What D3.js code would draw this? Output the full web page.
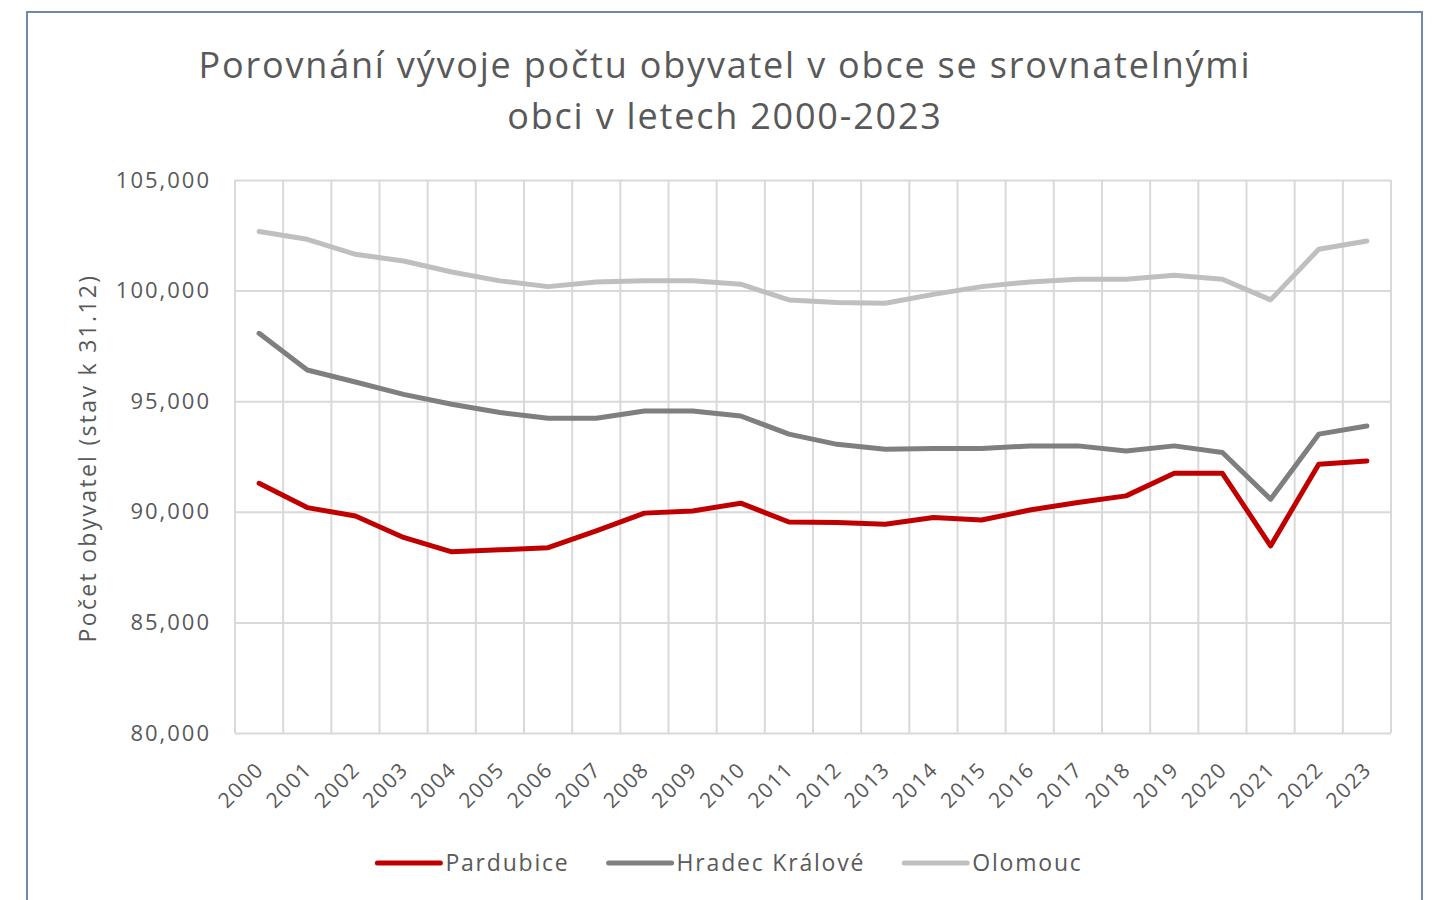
<!DOCTYPE html>
<html>
<head>
<meta charset="utf-8">
<script src="https://cdn.jsdelivr.net/npm/d3@7"></script>
<style>
  body { margin: 0; background: #fff; }
  text { font-family: "Open Sans", sans-serif; fill: #595959; }
</style>
</head>
<body>
<div id="chart"></div>
<script>
// data
const years = ["2000","2001","2002","2003","2004","2005","2006","2007","2008","2009","2010","2011",
               "2012","2013","2014","2015","2016","2017","2018","2019","2020","2021","2022","2023"];
const pardubice = [91290, 90190, 89810, 88840, 88190, 88280, 88380, 89140, 89940, 90040, 90390, 89540,
                   89520, 89440, 89740, 89630, 90080, 90420, 90720, 91740, 91740, 88460, 92150, 92300];
const hradec = [98070, 96410, 95870, 95310, 94860, 94490, 94230, 94230, 94560, 94560, 94330, 93510,
                93050, 92830, 92860, 92860, 92980, 92980, 92750, 92980, 92680, 90570, 93510, 93880];
const olomouc = [102670, 102320, 101640, 101340, 100840, 100440, 100180, 100390, 100440, 100440, 100290, 99580,
                 99460, 99430, 99830, 100180, 100390, 100510, 100510, 100690, 100510, 99580, 101870, 102240];
const yTicks = [80000, 85000, 90000, 95000, 100000, 105000];
const series = [
  {name: "Pardubice", values: pardubice, color: "#c00000"},
  {name: "Hradec Králové", values: hradec, color: "#7f7f7f"},
  {name: "Olomouc", values: olomouc, color: "#bfbfbf"}
];

const W = 1436, H = 900;
const plot = {left: 235, right: 1391, top: 180, bottom: 733};

const svg = d3.select("#chart").append("svg")
              .attr("width", W)
              .attr("height", H);

// outer frame
svg.append("rect")
   .attr("x", 27).attr("y", 12)
   .attr("width", 1395).attr("height", 920)
   .attr("fill", "#fff")
   .attr("stroke", "#7487a8")
   .attr("stroke-width", 2);

// title
const title = svg.append("text")
                 .attr("text-anchor", "middle")
                 .style("font-size", "36px")
                 .style("letter-spacing", "1.8px");
title.append("tspan").attr("x", 725).attr("y", 78)
     .text("Porovnání vývoje počtu obyvatel v obce se srovnatelnými");
title.append("tspan").attr("x", 725).attr("y", 129)
     .text("obci v letech 2000-2023");

const x = d3.scaleBand()
            .domain(years)
            .range([plot.left, plot.right])
            .padding(0);
const y = d3.scaleLinear()
            .domain([80000, 105000])
            .range([plot.bottom, plot.top]);

// horizontal grid + y labels
const yAxis = svg.append("g")
                 .attr("transform", "translate(" + plot.left + ",0)")
                 .call(d3.axisLeft(y)
                         .tickValues(yTicks)
                         .tickSize(-(plot.right - plot.left))
                         .tickPadding(24)
                         .tickFormat(d3.format(",")));
yAxis.select(".domain").remove();
yAxis.selectAll("line").attr("stroke", "#d9d9d9").attr("stroke-width", 2);
yAxis.selectAll("text")
     .style("font-size", "22px")
     .style("letter-spacing", "2px")
     .style("font-family", "\"Open Sans\", sans-serif")
     .attr("fill", "#595959");

// vertical grid at band edges
const edges = years.map(d => x(d)).concat([plot.right]);
svg.append("g")
   .selectAll("line")
   .data(edges)
   .enter()
   .append("line")
   .attr("x1", d => d).attr("x2", d => d)
   .attr("y1", plot.top).attr("y2", plot.bottom)
   .attr("stroke", "#d9d9d9")
   .attr("stroke-width", 2);

// x labels
svg.append("g")
   .selectAll("text")
   .data(years)
   .enter()
   .append("text")
   .attr("text-anchor", "end")
   .attr("transform", d => "translate(" + (x(d) + x.bandwidth() / 2 + 6) + "," + (plot.bottom + 38) + ") rotate(-45)")
   .style("font-size", "21px")
   .style("letter-spacing", "1.5px")
   .text(d => d);

// y axis title
svg.append("text")
   .attr("text-anchor", "middle")
   .attr("transform", "translate(96,458) rotate(-90)")
   .style("font-size", "23px")
   .style("letter-spacing", "2.3px")
   .text("Počet obyvatel (stav k 31.12)");

// lines
const line = d3.line()
               .x((d, i) => x(years[i]) + x.bandwidth() / 2)
               .y(d => y(d));
svg.append("g")
   .selectAll("path")
   .data(series.slice().reverse())
   .enter()
   .append("path")
   .attr("d", d => line(d.values))
   .attr("fill", "none")
   .attr("stroke", d => d.color)
   .attr("stroke-width", 5)
   .attr("stroke-linejoin", "round")
   .attr("stroke-linecap", "round");

// legend
const legend = svg.append("g");
const items = legend.selectAll("g")
                    .data(series)
                    .enter()
                    .append("g");
items.append("line")
     .attr("x1", 0).attr("x2", 63)
     .attr("y1", 0).attr("y2", 0)
     .attr("stroke", d => d.color)
     .attr("stroke-width", 5)
     .attr("stroke-linecap", "round");
items.append("text")
     .attr("x", 68)
     .attr("y", 8)
     .style("font-size", "23px")
     .style("letter-spacing", "1.8px")
     .text(d => d.name);
let cursor = 0;
items.each(function() {
  const g = d3.select(this);
  g.attr("transform", "translate(" + cursor + ",0)");
  cursor += 68 + g.select("text").node().getComputedTextLength() + 39;
});
const total = cursor - 39;
legend.attr("transform", "translate(" + (730 - total / 2) + ",863)");
</script>
</body>
</html>
